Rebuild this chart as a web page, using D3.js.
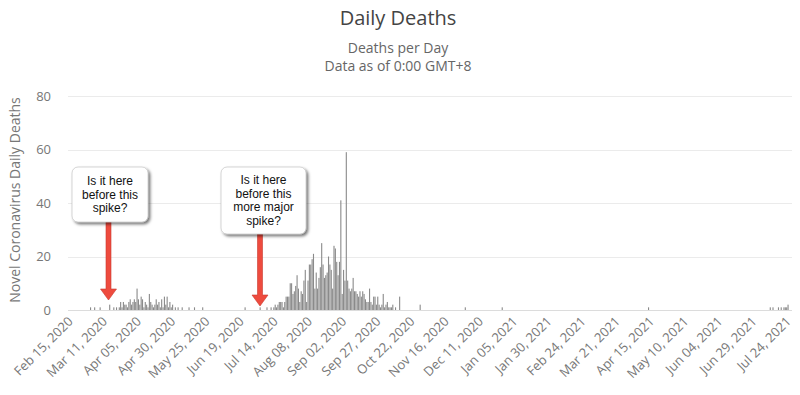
<!DOCTYPE html>
<html>
<head>
<meta charset="utf-8">
<script src="https://cdn.jsdelivr.net/npm/d3@7"></script>
<style>
  html, body { margin: 0; padding: 0; background: #fff; }
  svg { display: block; }
</style>
</head>
<body>
<svg id="chart" width="800" height="395"></svg>
<script>
// ---------- DATA ----------
const chartTitle = "Daily Deaths";
const subtitleLines = ["Deaths per Day", "Data as of 0:00 GMT+8"];
const yAxisTitle = "Novel Coronavirus Daily Deaths";
const yTicks = [0, 20, 40, 60, 80];
const tickDates = ["2020-02-15","2020-03-11","2020-04-05","2020-04-30","2020-05-25","2020-06-19",
  "2020-07-14","2020-08-08","2020-09-02","2020-09-27","2020-10-22","2020-11-16","2020-12-11",
  "2021-01-05","2021-01-30","2021-02-24","2021-03-21","2021-04-15","2021-05-10","2021-06-04",
  "2021-06-29","2021-07-24"];

// Days with reported deaths (days not listed = 0)
const dates = [
  "2020-03-01","2020-03-04","2020-03-08","2020-03-15","2020-03-18","2020-03-20","2020-03-22","2020-03-23",
  "2020-03-24","2020-03-25","2020-03-26","2020-03-27","2020-03-28","2020-03-29","2020-03-30","2020-03-31",
  "2020-04-01","2020-04-02","2020-04-03","2020-04-04","2020-04-05","2020-04-06","2020-04-07","2020-04-08",
  "2020-04-09","2020-04-10","2020-04-11","2020-04-12","2020-04-13","2020-04-14","2020-04-15","2020-04-16",
  "2020-04-17","2020-04-18","2020-04-19","2020-04-20","2020-04-21","2020-04-22","2020-04-23","2020-04-24",
  "2020-04-25","2020-04-26","2020-04-27","2020-04-28","2020-04-29","2020-04-30","2020-05-02","2020-05-04",
  "2020-05-07","2020-05-12","2020-05-16","2020-05-22","2020-06-22","2020-07-03","2020-07-08",
  "2020-07-11","2020-07-13","2020-07-14","2020-07-15","2020-07-16","2020-07-17","2020-07-18","2020-07-19",
  "2020-07-20","2020-07-21","2020-07-22","2020-07-23","2020-07-24","2020-07-25","2020-07-26","2020-07-27",
  "2020-07-28","2020-07-29","2020-07-30","2020-07-31","2020-08-01","2020-08-02","2020-08-03","2020-08-04",
  "2020-08-05","2020-08-06","2020-08-07","2020-08-08","2020-08-09","2020-08-10","2020-08-11","2020-08-12",
  "2020-08-13","2020-08-14","2020-08-15","2020-08-16","2020-08-17","2020-08-18","2020-08-19","2020-08-20",
  "2020-08-21","2020-08-22","2020-08-23","2020-08-24","2020-08-25","2020-08-26","2020-08-27","2020-08-28",
  "2020-08-29","2020-08-30","2020-08-31","2020-09-01","2020-09-02","2020-09-03","2020-09-04","2020-09-05",
  "2020-09-06","2020-09-07","2020-09-08","2020-09-09","2020-09-10","2020-09-11","2020-09-12","2020-09-13",
  "2020-09-14","2020-09-15","2020-09-16","2020-09-17","2020-09-18","2020-09-19","2020-09-20","2020-09-21",
  "2020-09-22","2020-09-23","2020-09-24","2020-09-25","2020-09-26","2020-09-27","2020-09-28","2020-09-29",
  "2020-09-30","2020-10-01","2020-10-02","2020-10-03","2020-10-04","2020-10-05","2020-10-06","2020-10-07",
  "2020-10-08","2020-10-10","2020-10-13","2020-10-28","2020-11-30","2020-12-27","2021-04-13",
  "2021-07-11","2021-07-13","2021-07-17","2021-07-19","2021-07-21","2021-07-22","2021-07-23","2021-07-24"
];
const deaths = [
  1,1,1,2,1,1,1,3,
  1,3,2,2,1,3,4,2,
  3,4,3,8,4,2,5,4,
  1,3,2,1,6,3,2,1,
  2,4,2,3,1,4,1,5,
  2,5,1,3,1,2,1,1,
  1,1,1,1,1,1,1,
  1,1,2,1,2,3,3,3,
  1,3,5,5,5,10,10,6,
  7,9,13,8,3,7,6,11,
  15,3,11,17,17,19,21,8,
  14,8,12,16,25,17,12,13,
  14,20,17,15,8,24,23,18,
  13,18,41,6,15,11,59,11,
  8,7,8,12,7,7,6,5,
  7,5,7,6,4,3,3,8,
  3,2,5,5,2,5,2,1,
  2,6,1,2,3,1,1,1,
  2,1,5,2,1,1,1,
  1,1,1,1,1,1,1,2
];

// ---------- CHART ----------
const svg = d3.select("#chart");
const parse = d3.utcParse("%Y-%m-%d");
const fmt = d3.utcFormat("%b %d, %Y");
const font = "'Open Sans', sans-serif";

const x = d3.scaleUtc()
  .domain([parse(tickDates[0]), parse(tickDates[tickDates.length - 1])])
  .range([70, 788]);
const y = d3.scaleLinear().domain([0, 80]).range([310, 96]);

const plotLeft = 68, plotRight = 792;

// titles
svg.append("text").attr("x", 398).attr("y", 25).attr("text-anchor", "middle")
  .style("font-family", font).style("font-size", "20px").style("fill", "#444")
  .text(chartTitle);
subtitleLines.forEach((t, i) => {
  svg.append("text").attr("x", 398).attr("y", 53 + i * 18).attr("text-anchor", "middle")
    .style("font-family", font).style("font-size", "14px").style("fill", "#666")
    .text(t);
});

// gridlines
svg.append("g").selectAll("line").data(yTicks.filter(v => v > 0)).join("line")
  .attr("x1", plotLeft).attr("x2", plotRight)
  .attr("y1", d => Math.round(y(d)) + 0.5).attr("y2", d => Math.round(y(d)) + 0.5)
  .attr("stroke", "#ebebeb").attr("stroke-width", 1);

// y axis (labels only)
const yAxis = d3.axisLeft(y).tickValues(yTicks).tickSize(0).tickPadding(0);
const gy = svg.append("g").attr("transform", "translate(51,0)").call(yAxis);
gy.select(".domain").remove();
gy.selectAll("text").style("font-family", font).style("font-size", "13px").style("fill", "#777");

// y axis title
svg.append("text").attr("transform", "translate(20,200) rotate(-90)").attr("text-anchor", "middle")
  .style("font-family", font).style("font-size", "14px").style("fill", "#777")
  .text(yAxisTitle);

// bars
const barData = dates.map((d, i) => ({ date: parse(d), value: deaths[i] }));
svg.append("g").selectAll("rect").data(barData).join("rect")
  .attr("x", d => x(d.date) - 0.5)
  .attr("width", 1.1)
  .attr("y", d => y(d.value))
  .attr("height", d => y(0) - y(d.value))
  .attr("fill", "#8a8a8a");

// x axis baseline
svg.append("line").attr("x1", plotLeft).attr("x2", plotRight)
  .attr("y1", 310.5).attr("y2", 310.5).attr("stroke", "#dcdcdc");

// x axis labels
const xAxis = d3.axisBottom(x).tickValues(tickDates.map(parse)).tickFormat(fmt).tickSize(0).tickPadding(0);
const gx = svg.append("g").attr("transform", "translate(0,319)").call(xAxis);
gx.select(".domain").remove();
gx.selectAll("text")
  .attr("text-anchor", "end").attr("dy", "0.35em").attr("y", 0)
  .attr("transform", "rotate(-45)")
  .style("font-family", font).style("font-size", "13px").style("fill", "#777");

// callouts
const defs = svg.append("defs");
const f = defs.append("filter").attr("id", "shadow").attr("x", "-20%").attr("y", "-20%").attr("width", "150%").attr("height", "150%");
f.append("feDropShadow").attr("dx", 2).attr("dy", 2).attr("stdDeviation", 1.5).attr("flood-color", "#000").attr("flood-opacity", 0.55);

const callouts = [
  { lines: ["Is it here", "before this", "spike?"], box: [72, 167, 76, 55], arrowX: 108.5, tipY: 300 },
  { lines: ["Is it here", "before this", "more major", "spike?"], box: [221, 167, 85, 67], arrowX: 260, tipY: 306 }
];
callouts.forEach(c => {
  const [bx, by, bw, bh] = c.box;
  const ax = c.arrowX;
  const headTop = c.tipY - 11;
  svg.append("path")
    .attr("d", `M${ax - 2.5},${by + bh} L${ax + 2.5},${by + bh} L${ax + 2.5},${headTop} L${ax + 8},${headTop} L${ax},${c.tipY} L${ax - 8},${headTop} L${ax - 2.5},${headTop} Z`)
    .attr("fill", "#ee4b3e").attr("stroke", "#c93a2f").attr("stroke-width", 0.6);
  svg.append("rect").attr("x", bx).attr("y", by).attr("width", bw).attr("height", bh)
    .attr("rx", 6).attr("ry", 6).attr("fill", "#fff").attr("stroke", "#bbb").attr("stroke-width", 0.6)
    .attr("filter", "url(#shadow)");
  const cx = bx + bw / 2;
  const lh = 13.5;
  const startY = by + bh / 2 - (c.lines.length - 1) * lh / 2 + 4;
  c.lines.forEach((t, i) => {
    svg.append("text").attr("x", cx).attr("y", startY + i * lh).attr("text-anchor", "middle")
      .style("font-family", "'Liberation Sans', Arial, sans-serif").style("font-size", "12px").style("fill", "#111")
      .text(t);
  });
});
</script>
</body>
</html>
